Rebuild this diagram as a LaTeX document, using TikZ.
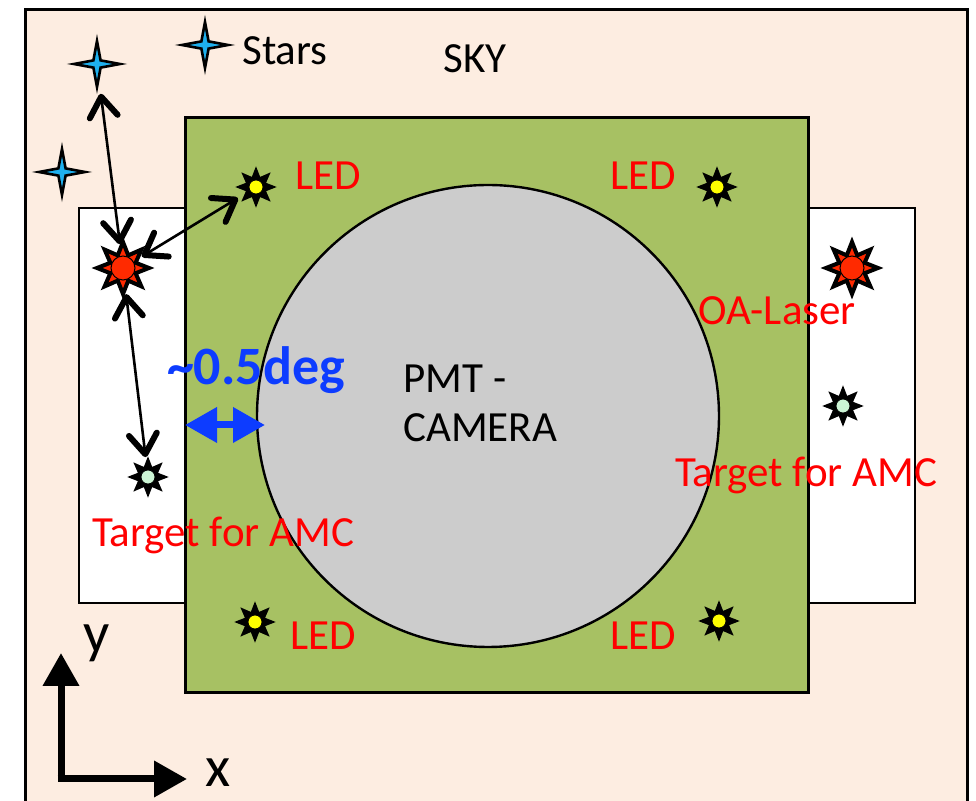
\documentclass[tikz,border=0pt]{standalone}
\usepackage{fontspec}
\setmainfont{Carlito}
\usetikzlibrary{shapes.geometric,arrows.meta}
\definecolor{skyfill}{HTML}{FDEDE1}
\definecolor{camfill}{HTML}{A7C163}
\definecolor{pmtfill}{HTML}{CCCCCC}
\definecolor{starblue}{HTML}{1EB0EE}
\definecolor{ledyellow}{HTML}{FFFF00}
\definecolor{laserred}{HTML}{FF2A00}
\definecolor{amcgreen}{HTML}{CCF5D5}
\definecolor{degblue}{HTML}{0D3CFF}
\tikzset{skystar/.style={star, star points=4, star point ratio=4.5, draw=black, line width=1.3pt, fill=starblue, inner sep=0pt, minimum size=23pt}}
\tikzset{burst/.style={star, star points=8, star point ratio=1.9, draw=black, fill=black, line width=1pt, inner sep=0pt, minimum size=18pt}}
\tikzset{ledpt/.style={circle, draw=black, line width=0.4pt, fill=ledyellow, inner sep=0pt, minimum size=7pt}}
\tikzset{amcpt/.style={circle, draw=black, line width=0.4pt, fill=amcgreen, inner sep=0pt, minimum size=7pt}}
\tikzset{laserburst/.style={star, star points=8, star point ratio=1.9, draw=black, fill=laserred, line width=2pt, inner sep=0pt, minimum size=26pt}}
\tikzset{laserpt/.style={circle, draw=black, line width=0.5pt, fill=laserred, inner sep=0pt, minimum size=12pt}}
\tikzset{lbl/.style={anchor=base, inner sep=0pt, font=\fontsize{21.5}{24.5}\selectfont}}
\tikzset{redlbl/.style={lbl, text=red}}
\tikzset{linkarrow/.style={line width=1.3pt, {Straight Barb[round,length=10pt,width=14pt,line width=3pt]}-{Straight Barb[round,length=10pt,width=14pt,line width=3pt]}}}
\tikzset{axisarrow/.style={line width=3.5pt, -{Triangle[length=16.5pt,width=17.5pt]}}}

\begin{document}
\begin{tikzpicture}[x=0.5pt,y=-0.5pt]
\useasboundingbox (0,0) rectangle (976,801);

\fill[skyfill] (25,10) rectangle (967,801);
\draw[line width=1.5pt] (25,801) -- (25,10) -- (967,10) -- (967,801);

\draw[line width=1.2pt, fill=white] (79,208) rectangle (185,603);
\draw[line width=1.2pt, fill=white] (808,208) rectangle (915,603);
\draw[line width=1.5pt, fill=camfill] (185,118) rectangle (808,693);

\node[circle, draw, line width=1.2pt, fill=pmtfill, inner sep=0pt, minimum size=231pt] (pmt) at (488,416) {};
\node[lbl, align=left, anchor=base west] (pmttext) at (403,442) {PMT -\\CAMERA};

\node[skystar] (skyA) at (97,64) {};
\node[skystar] (skyB) at (205,45) {};
\node[skystar] (skyC) at (62,172) {};
\node[lbl] (stars) at (285,65) {Stars};
\node[lbl] (sky) at (475,73) {SKY};

\node[burst] (ledTL) at (256,187) {}; \node[ledpt] at (ledTL) {};
\node[burst] (ledTR) at (717,187) {}; \node[ledpt] at (ledTR) {};
\node[burst] (ledBL) at (255,622) {}; \node[ledpt] at (ledBL) {};
\node[burst] (ledBR) at (719,621) {}; \node[ledpt] at (ledBR) {};
\node[redlbl] (ledTLtext) at (328,190) {LED};
\node[redlbl] (ledTRtext) at (643,190) {LED};
\node[redlbl] (ledBLtext) at (323,650) {LED};
\node[redlbl] (ledBRtext) at (643,650) {LED};

\node[laserburst] (laserL) at (123,268) {}; \node[laserpt] at (laserL) {};
\node[laserburst] (laserR) at (852,268) {}; \node[laserpt] at (laserR) {};
\node[redlbl] (lasertext) at (777,325) {OA-Laser};

\node[burst] (amcL) at (148,477) {}; \node[amcpt] at (amcL) {};
\node[burst] (amcR) at (843,406) {}; \node[amcpt] at (amcR) {};
\node[redlbl] (amcLtext) at (223,547) {Target for AMC};
\node[redlbl] (amcRtext) at (806,487) {Target for AMC};

\draw[linkarrow, shorten <=6pt] (skyA) -- (laserL);
\draw[linkarrow, shorten <=1pt, shorten >=4pt] (laserL) -- (ledTL);
\draw[linkarrow, shorten <=1pt, shorten >=2pt] (laserL) -- (amcL);

\node[lbl, text=degblue, font=\fontsize{27}{32}\selectfont\bfseries] (degtext) at (256,385) {\textasciitilde0.5deg};
\coordinate (degL) at (185,425);
\coordinate (degR) at (265,425);
\draw[line width=3.5pt, degblue, {Triangle[length=16pt,width=17pt]}-{Triangle[length=16pt,width=17pt]}] (degL) -- (degR);

\coordinate (origin) at (61,779);
\coordinate (yend) at (61,653);
\coordinate (xend) at (187,779);
\draw[axisarrow] (origin) -- (yend);
\draw[axisarrow] ([xshift=-1.75pt]origin) -- (xend);
\node[lbl, font=\fontsize{29}{34}\selectfont] (ylab) at (97,653) {y};
\node[lbl, font=\fontsize{29}{34}\selectfont] (xlab) at (218,787) {x};
\end{tikzpicture}
\end{document}
